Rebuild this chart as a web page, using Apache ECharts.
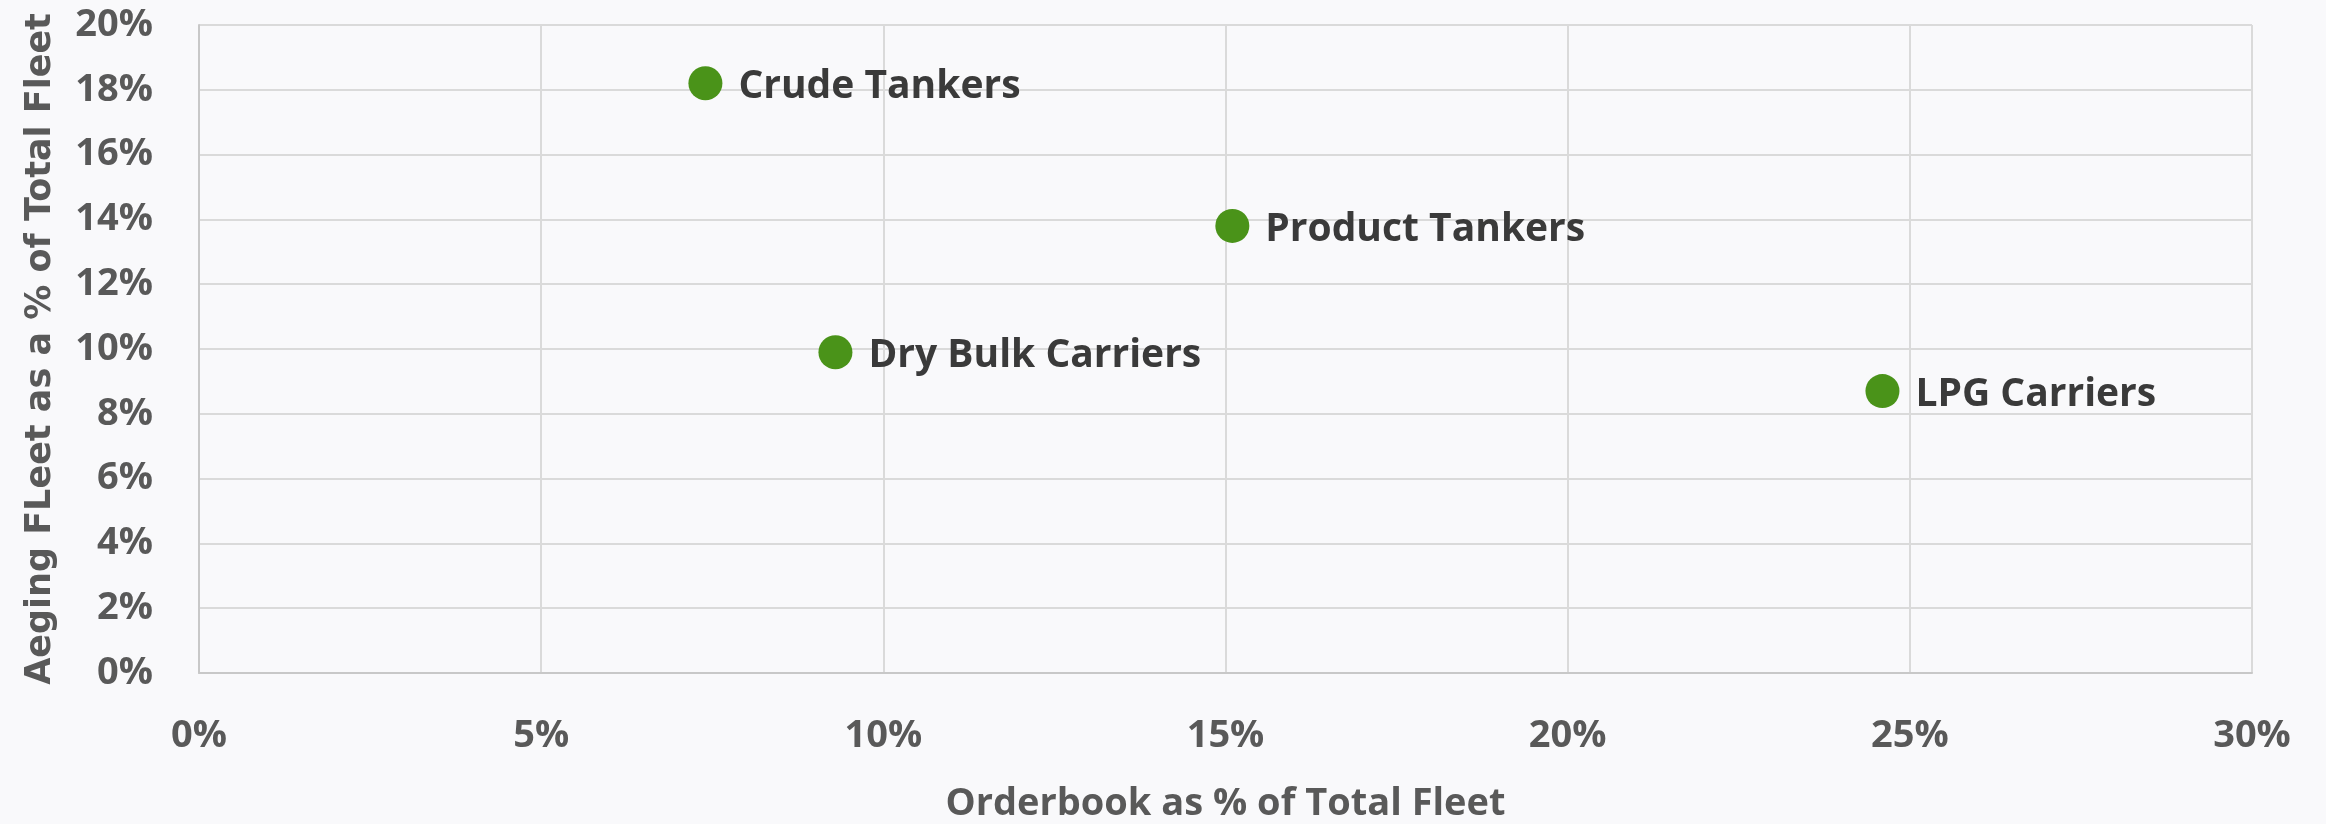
<!DOCTYPE html>
<html lang="en">

<head>
    <meta charset="UTF-8">
    <title>Orderbook vs Aging Fleet</title>
    <script src="https://cdn.jsdelivr.net/npm/echarts@6/dist/echarts.min.js"></script>
    <style>
        html, body { margin: 0; padding: 0; background: #f9f9fb; }
        #scatter_show { width: 2326px; height: 824px; }
    </style>
</head>

<body>
    <div id="scatter_show"></div>
    <script>
        // fleet segments, orderbook % (x) and aging fleet % (y)
        const segments = ['Crude Tankers', 'Product Tankers', 'Dry Bulk Carriers', 'LPG Carriers'];
        const orderbook = [7.4, 15.1, 9.3, 24.6];
        const aging = [18.2, 13.8, 9.9, 8.7];

        const points = segments.map((s, i) => ({ name: s, value: [orderbook[i], aging[i]] }));

        var oChart = echarts.init(document.getElementById('scatter_show'));
        var opt = {
            backgroundColor: '#f9f9fb',
            animation: false,
            grid: { left: 199, right: 74, top: 25, bottom: 151, outerBoundsMode: 'none' },
            xAxis: {
                type: 'value',
                min: 0,
                max: 30,
                interval: 5,
                name: 'Orderbook as % of Total Fleet',
                nameLocation: 'middle',
                nameGap: 112,
                nameTextStyle: { fontFamily: 'Open Sans', fontWeight: 'bold', fontSize: 38, color: '#595959' },
                axisLine: { lineStyle: { color: '#c8c8c8', width: 2 } },
                axisTick: { show: false },
                axisLabel: {
                    formatter: '{value}%',
                    margin: 44,
                    fontFamily: 'Open Sans', fontWeight: 'bold', fontSize: 38, color: '#595959'
                },
                splitLine: { show: true, lineStyle: { color: '#dadada', width: 2 } }
            },
            yAxis: {
                type: 'value',
                min: 0,
                max: 20,
                interval: 2,
                name: 'Aeging FLeet as a % of Total Fleet',
                nameLocation: 'middle',
                nameGap: 141,
                nameTextStyle: { fontFamily: 'DejaVu Sans', fontWeight: 'bold', fontSize: 35, color: '#595959' },
                axisLine: { show: true, lineStyle: { color: '#c8c8c8', width: 2 } },
                axisTick: { show: false },
                axisLabel: {
                    formatter: '{value}%',
                    margin: 46,
                    fontFamily: 'Open Sans', fontWeight: 'bold', fontSize: 38, color: '#595959'
                },
                splitLine: { show: true, lineStyle: { color: '#dadada', width: 2 } }
            },
            series: [{
                type: 'scatter',
                symbolSize: 34,
                itemStyle: { color: '#4a9319', opacity: 1 },
                label: {
                    show: true,
                    position: 'right',
                    distance: 16,
                    offset: [0, 4],
                    formatter: '{b}',
                    fontFamily: 'Open Sans', fontWeight: 'bold', fontSize: 39, color: '#3a3a3a'
                },
                data: points
            }]
        };
        oChart.setOption(opt);
    </script>
</body>

</html>
